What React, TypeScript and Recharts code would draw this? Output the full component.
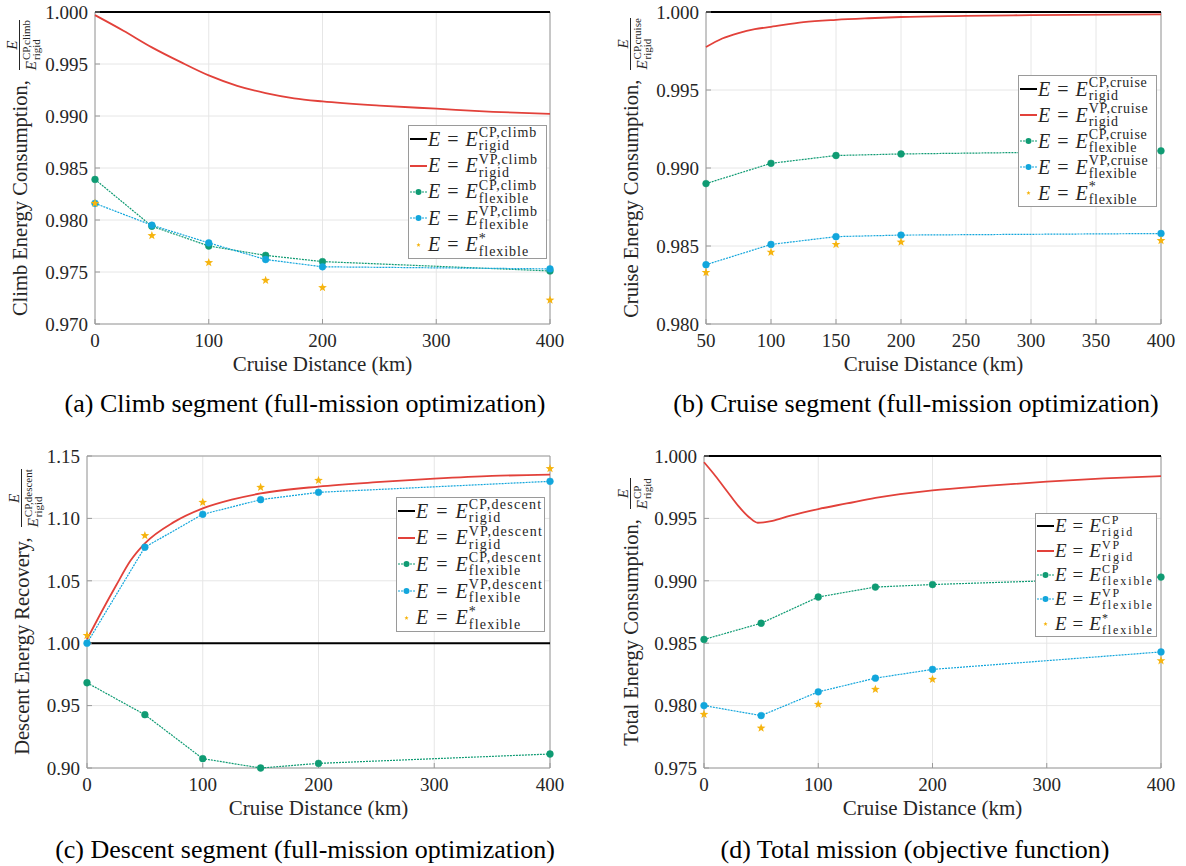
import React from 'react';
import {
  LineChart,
  Line,
  XAxis,
  YAxis,
  CartesianGrid,
  Legend,
  ReferenceArea,
} from 'recharts';

const FONT = '"Liberation Serif", "Times New Roman", Times, serif';
const TEXT = '#262626';
const AXIS = '#9a9a9a';
const GRID = '#e6e6e6';
const BLACK = '#000000';
const RED = '#e2413a';
const GREEN = '#0f9b73';
const BLUE = '#12a6dc';
const STAR = '#f6b40f';

// (a) climb segment
const climbX = [0, 50, 100, 150, 200, 400];
const climbCpFlex = [0.9839, 0.9794, 0.9775, 0.9766, 0.976, 0.9751];
const climbVpFlex = [0.9816, 0.9795, 0.9778, 0.9762, 0.9755, 0.9753];
const climbStar = [0.9816, 0.9785, 0.9759, 0.9742, 0.9735, 0.9723];
const climbVpRigidX = [0, 25, 50, 75, 100, 125, 150, 175, 200, 250, 300, 350, 400];
const climbVpRigid = [0.9997, 0.9982, 0.9966, 0.9952, 0.9939, 0.9929, 0.9922, 0.9917, 0.9914, 0.991, 0.9907, 0.9904, 0.9902];
const climbTicksX = [0, 100, 200, 300, 400];
const climbTicksY = [0.97, 0.975, 0.98, 0.985, 0.99, 0.995, 1.0];

// (b) cruise segment
const cruiseX = [50, 100, 150, 200, 400];
const cruiseCpFlex = [0.989, 0.9903, 0.9908, 0.9909, 0.9911];
const cruiseVpFlex = [0.9838, 0.9851, 0.9856, 0.9857, 0.9858];
const cruiseStar = [0.9833, 0.9846, 0.9851, 0.98525, 0.98535];
const cruiseVpRigidX = [50, 62.5, 75, 87.5, 100, 125, 150, 175, 200, 250, 300, 400];
const cruiseVpRigid = [0.99775, 0.9983, 0.99865, 0.9989, 0.99905, 0.99935, 0.9995, 0.9996, 0.99968, 0.99975, 0.9998, 0.99985];
const cruiseTicksX = [50, 100, 150, 200, 250, 300, 350, 400];
const cruiseTicksY = [0.98, 0.985, 0.99, 0.995, 1.0];

// (c) descent segment
const descentX = [0, 50, 100, 150, 200, 400];
const descentCpFlex = [0.9683, 0.9427, 0.9075, 0.9, 0.9037, 0.9112];
const descentVpFlex = [1.0, 1.0769, 1.1033, 1.115, 1.1209, 1.1297];
const descentStar = [1.0062, 1.0862, 1.1129, 1.1249, 1.1305, 1.1399];
const descentVpRigidX = [0, 12.5, 25, 37.5, 50, 75, 100, 125, 150, 200, 250, 300, 350, 400];
const descentVpRigid = [1.003, 1.025, 1.046, 1.066, 1.08, 1.097, 1.108, 1.115, 1.12, 1.1255, 1.129, 1.1318, 1.134, 1.135];
const descentTicksX = [0, 100, 200, 300, 400];
const descentTicksY = [0.9, 0.95, 1.0, 1.05, 1.1, 1.15];

// (d) total mission
const totalX = [0, 50, 100, 150, 200, 400];
const totalCpFlex = [0.9853, 0.9866, 0.9887, 0.9895, 0.9897, 0.9903];
const totalVpFlex = [0.98, 0.9792, 0.9811, 0.9822, 0.9829, 0.9843];
const totalStar = [0.9793, 0.9782, 0.9801, 0.9813, 0.9821, 0.9836];
const totalVpRigidX = [0, 10, 20, 30, 40, 47, 60, 75, 100, 125, 150, 200, 250, 300, 350, 400];
const totalVpRigid = [0.9995, 0.9984, 0.9972, 0.996, 0.99505, 0.99465, 0.9948, 0.9952, 0.99575, 0.9962, 0.99665, 0.99725, 0.99762, 0.99795, 0.9982, 0.99838];
const totalTicksX = [0, 100, 200, 300, 400];
const totalTicksY = [0.975, 0.98, 0.985, 0.99, 0.995, 1.0];

const zip = (xs: number[], ys: number[]) => xs.map((x, i) => ({ x, y: ys[i] }));

const starPath = (cx: number, cy: number, R: number, r: number) => {
  let d = '';
  for (let i = 0; i < 10; i++) {
    const a = -Math.PI / 2 + (i * Math.PI) / 5;
    const rad = i % 2 === 0 ? R : r;
    d += (i === 0 ? 'M' : 'L') + (cx + rad * Math.cos(a)).toFixed(2) + ',' + (cy + rad * Math.sin(a)).toFixed(2);
  }
  return d + 'Z';
};

const StarDot = (props: any) => {
  const { cx, cy, index } = props;
  if (cx == null || cy == null) return <g key={index} />;
  return <path key={index} d={starPath(cx, cy, 4.6, 1.9)} fill={STAR} />;
};

// stacked superscript / subscript
const Stack = ({ sup, sub, size, lh, ls = 0 }: { sup: string; sub: string; size: number; lh: number; ls?: number }) => (
  <span
    style={{
      display: 'inline-flex',
      flexDirection: 'column',
      fontFamily: FONT,
      fontSize: size,
      lineHeight: `${lh}px`,
      letterSpacing: ls,
      marginLeft: 1,
    }}
  >
    <span>{sup}</span>
    <span>{sub}</span>
  </span>
);

const YLabel = (props: any) => {
  const { cx, cy, len, main, sup } = props;
  const boxW = len + 40;
  const boxH = 60;
  return (
    <g transform={`rotate(-90 ${cx} ${cy})`}>
      <foreignObject x={cx - boxW / 2} y={cy - boxH / 2} width={boxW} height={boxH}>
        <div
          style={{
            width: boxW,
            height: boxH,
            display: 'flex',
            alignItems: 'center',
            justifyContent: 'center',
            fontFamily: FONT,
            fontSize: 20.5,
            color: TEXT,
            whiteSpace: 'nowrap',
          }}
        >
          <span style={{ fontFamily: FONT }}>{main}</span>
          <span
            style={{
              display: 'inline-flex',
              flexDirection: 'column',
              alignItems: 'center',
              marginLeft: 10,
              position: 'relative',
              top: 3,
              fontFamily: FONT,
            }}
          >
            <span style={{ fontStyle: 'italic', fontSize: 15, lineHeight: '14px' }}>E</span>
            <span style={{ borderTop: `1px solid ${TEXT}`, display: 'flex', alignItems: 'center', paddingTop: 1 }}>
              <span style={{ fontStyle: 'italic', fontSize: 15, lineHeight: '14px' }}>E</span>
              <Stack sup={sup} sub="rigid" size={11} lh={10} />
            </span>
          </span>
        </div>
      </foreignObject>
    </g>
  );
};

const Sample = ({ kind, color }: { kind: string; color: string }) => (
  <svg width={17} height={12} style={{ flex: 'none', marginRight: 1 }}>
    {kind !== 'star' && (
      <line
        x1={0}
        x2={17}
        y1={6}
        y2={6}
        stroke={color}
        strokeWidth={kind === 'solid' ? 2 : 1.2}
        strokeDasharray={kind === 'dotted' ? '2 1' : undefined}
      />
    )}
    {kind === 'dotted' && <circle cx={8.5} cy={6} r={3} fill={color} />}
    {kind === 'star' && <path d={starPath(8.5, 6, 2.2, 1)} fill={color} />}
  </svg>
);

const legendRows = (seg: string) => {
  const s = seg ? ',' + seg : '';
  return [
    { kind: 'solid', color: BLACK, sup: 'CP' + s, sub: 'rigid' },
    { kind: 'solid', color: RED, sup: 'VP' + s, sub: 'rigid' },
    { kind: 'dotted', color: GREEN, sup: 'CP' + s, sub: 'flexible' },
    { kind: 'dotted', color: BLUE, sup: 'VP' + s, sub: 'flexible' },
    { kind: 'star', color: STAR, sup: '*', sub: 'flexible' },
  ];
};

const LegendBox = ({ seg, box }: { seg: string; box: any }) => {
  const rows = legendRows(seg);
  const rowH = (box.height - 2) / rows.length;
  return (
    <div
      style={{
        boxSizing: 'border-box',
        width: box.width,
        height: box.height,
        border: `1px solid ${AXIS}`,
        background: '#fff',
        paddingLeft: 1,
        fontFamily: FONT,
        color: TEXT,
      }}
    >
      {rows.map((r, i) => (
        <div key={i} style={{ height: rowH, display: 'flex', alignItems: 'center', whiteSpace: 'nowrap' }}>
          <Sample kind={r.kind} color={r.color} />
          <span style={{ display: 'flex', alignItems: 'center', fontSize: box.font, fontFamily: FONT }}>
            <span style={{ fontStyle: 'italic' }}>E</span>
            <span style={{ margin: `0 ${box.gap}px` }}>=</span>
            <span style={{ fontStyle: 'italic' }}>E</span>
            <Stack sup={r.sup} sub={r.sub} size={box.sub} lh={box.lh} ls={box.ls} />
          </span>
        </div>
      ))}
    </div>
  );
};

const X_AXIS_H = 50;

const panels = [
  {
    key: 'a', left: 0, top: 0, width: 590, height: 430,
    margin: { top: 12, right: 40, bottom: 56, left: 45 },
    xDomain: [0, 400], xTicks: climbTicksX, yDomain: [0.97, 1.0], yTicks: climbTicksY, digits: 3,
    labelCx: 20, yMain: 'Climb Energy Consumption,', ySup: 'CP,climb', seg: 'climb',
    legend: { left: 408, top: 125, width: 139, height: 134, font: 20, gap: 7, sub: 14, lh: 13, ls: 0.95 },
    x: climbX, cp: climbCpFlex, vp: climbVpFlex, star: climbStar, rigidX: climbVpRigidX, rigid: climbVpRigid,
    caption: '(a) Climb segment (full-mission optimization)', capX: 305, capY: 389,
  },
  {
    key: 'b', left: 590, top: 0, width: 596, height: 430,
    margin: { top: 12, right: 25, bottom: 56, left: 66 },
    xDomain: [50, 400], xTicks: cruiseTicksX, yDomain: [0.98, 1.0], yTicks: cruiseTicksY, digits: 3,
    labelCx: 41, yMain: 'Cruise Energy Consumption,', ySup: 'CP,cruise', seg: 'cruise',
    legend: { left: 428, top: 75, width: 139, height: 132, font: 20, gap: 7, sub: 14, lh: 13, ls: 0.7 },
    x: cruiseX, cp: cruiseCpFlex, vp: cruiseVpFlex, star: cruiseStar, rigidX: cruiseVpRigidX, rigid: cruiseVpRigid,
    caption: '(b) Cruise segment (full-mission optimization)', capX: 916, capY: 389,
  },
  {
    key: 'c', left: 0, top: 430, width: 590, height: 436,
    margin: { top: 26, right: 40, bottom: 48, left: 37 },
    xDomain: [0, 400], xTicks: descentTicksX, yDomain: [0.9, 1.15], yTicks: descentTicksY, digits: 2,
    labelCx: 22, yMain: 'Descent Energy Recovery,', ySup: 'CP,descent', seg: 'descent',
    legend: { left: 396, top: 67, width: 149, height: 135, font: 20, gap: 8, sub: 14, lh: 13, ls: 1.25 },
    x: descentX, cp: descentCpFlex, vp: descentVpFlex, star: descentStar, rigidX: descentVpRigidX, rigid: descentVpRigid,
    caption: '(c) Descent segment (full-mission optimization)', capX: 305, capY: 835,
  },
  {
    key: 'd', left: 590, top: 430, width: 596, height: 436,
    margin: { top: 26, right: 25, bottom: 48, left: 64 },
    xDomain: [0, 400], xTicks: totalTicksX, yDomain: [0.975, 1.0], yTicks: totalTicksY, digits: 3,
    labelCx: 41, yMain: 'Total Energy Consumption,', ySup: 'CP', seg: '',
    legend: { left: 445, top: 83, width: 122, height: 124, font: 19, gap: 6, sub: 12, lh: 12, ls: 1.9 },
    x: totalX, cp: totalCpFlex, vp: totalVpFlex, star: totalStar, rigidX: totalVpRigidX, rigid: totalVpRigid,
    caption: '(d) Total mission (objective function)', capX: 915, capY: 835,
  },
];

const tickStyle = { fontSize: 19, fill: TEXT, fontFamily: FONT };

const Panel = ({ p }: { p: any }) => {
  const plotTop = p.margin.top;
  const plotH = p.height - p.margin.top - p.margin.bottom - X_AXIS_H;
  const [x0, x1] = p.xDomain;
  const [y0, y1] = p.yDomain;
  const baseline = [{ x: x0, y: 1 }, { x: x1, y: 1 }];
  return (
    <div style={{ position: 'absolute', left: p.left, top: p.top, fontFamily: FONT }}>
      <LineChart width={p.width} height={p.height} margin={p.margin} style={{ fontFamily: FONT }}>
        <CartesianGrid stroke={GRID} />
        <XAxis
          dataKey="x"
          type="number"
          domain={p.xDomain}
          ticks={p.xTicks}
          height={X_AXIS_H}
          axisLine={false}
          tickSize={-5}
          tickMargin={15}
          tickLine={{ stroke: AXIS }}
          tick={tickStyle}
          label={{
            value: 'Cruise Distance (km)',
            position: 'insideBottom',
            offset: 3.5,
            fontSize: 21,
            fill: TEXT,
            fontFamily: FONT,
          }}
        />
        <XAxis
          xAxisId="top"
          orientation="top"
          dataKey="x"
          type="number"
          domain={p.xDomain}
          ticks={p.xTicks}
          height={0}
          axisLine={false}
          tick={false}
          tickSize={-5}
          tickLine={{ stroke: AXIS }}
        />
        <YAxis
          type="number"
          domain={p.yDomain}
          ticks={p.yTicks}
          width={50}
          axisLine={false}
          tickSize={-5}
          tickMargin={12}
          tickLine={{ stroke: AXIS }}
          tick={tickStyle}
          tickFormatter={(v: number) => v.toFixed(p.digits)}
          label={<YLabel cx={p.labelCx} cy={plotTop + plotH / 2} len={plotH} main={p.yMain} sup={p.ySup} />}
        />
        <YAxis
          yAxisId="right"
          orientation="right"
          type="number"
          domain={p.yDomain}
          ticks={p.yTicks}
          width={0}
          axisLine={false}
          tick={false}
          tickSize={-5}
          tickLine={{ stroke: AXIS }}
        />
        <ReferenceArea x1={x0} x2={x1} y1={y0} y2={y1} fill="none" stroke={AXIS} strokeWidth={1} />
        <Line data={baseline} dataKey="y" stroke={BLACK} strokeWidth={2} dot={false} isAnimationActive={false} />
        <Line
          data={zip(p.rigidX, p.rigid)}
          dataKey="y"
          type="monotone"
          stroke={RED}
          strokeWidth={1.8}
          dot={false}
          isAnimationActive={false}
        />
        <Line
          data={zip(p.x, p.cp)}
          dataKey="y"
          stroke={GREEN}
          strokeWidth={1.2}
          strokeDasharray="2 1"
          dot={{ r: 3.4, fill: GREEN, stroke: GREEN, strokeWidth: 0.5, strokeDasharray: '' }}
          isAnimationActive={false}
        />
        <Line
          data={zip(p.x, p.vp)}
          dataKey="y"
          stroke={BLUE}
          strokeWidth={1.2}
          strokeDasharray="2 1"
          dot={{ r: 3.4, fill: BLUE, stroke: BLUE, strokeWidth: 0.5, strokeDasharray: '' }}
          isAnimationActive={false}
        />
        <Line data={zip(p.x, p.star)} dataKey="y" stroke="none" strokeWidth={0} dot={StarDot} isAnimationActive={false} />
        <Legend
          layout="vertical"
          align="center"
          verticalAlign="middle"
          wrapperStyle={{ left: p.legend.left, top: p.legend.top, width: p.legend.width, height: p.legend.height }}
          content={() => <LegendBox seg={p.seg} box={p.legend} />}
        />
      </LineChart>
    </div>
  );
};

export default function App() {
  return (
    <div style={{ position: 'absolute', left: 0, top: 0, width: 1186, height: 866, background: '#fff', fontFamily: FONT }}>
      {panels.map(p => (
        <Panel key={p.key} p={p} />
      ))}
      {panels.map(p => (
        <div
          key={'cap-' + p.key}
          style={{
            position: 'absolute',
            left: p.capX - 300,
            top: p.capY,
            width: 600,
            textAlign: 'center',
            fontSize: 26,
            lineHeight: '30px',
            color: '#000',
            whiteSpace: 'nowrap',
          }}
        >
          {p.caption}
        </div>
      ))}
    </div>
  );
}
